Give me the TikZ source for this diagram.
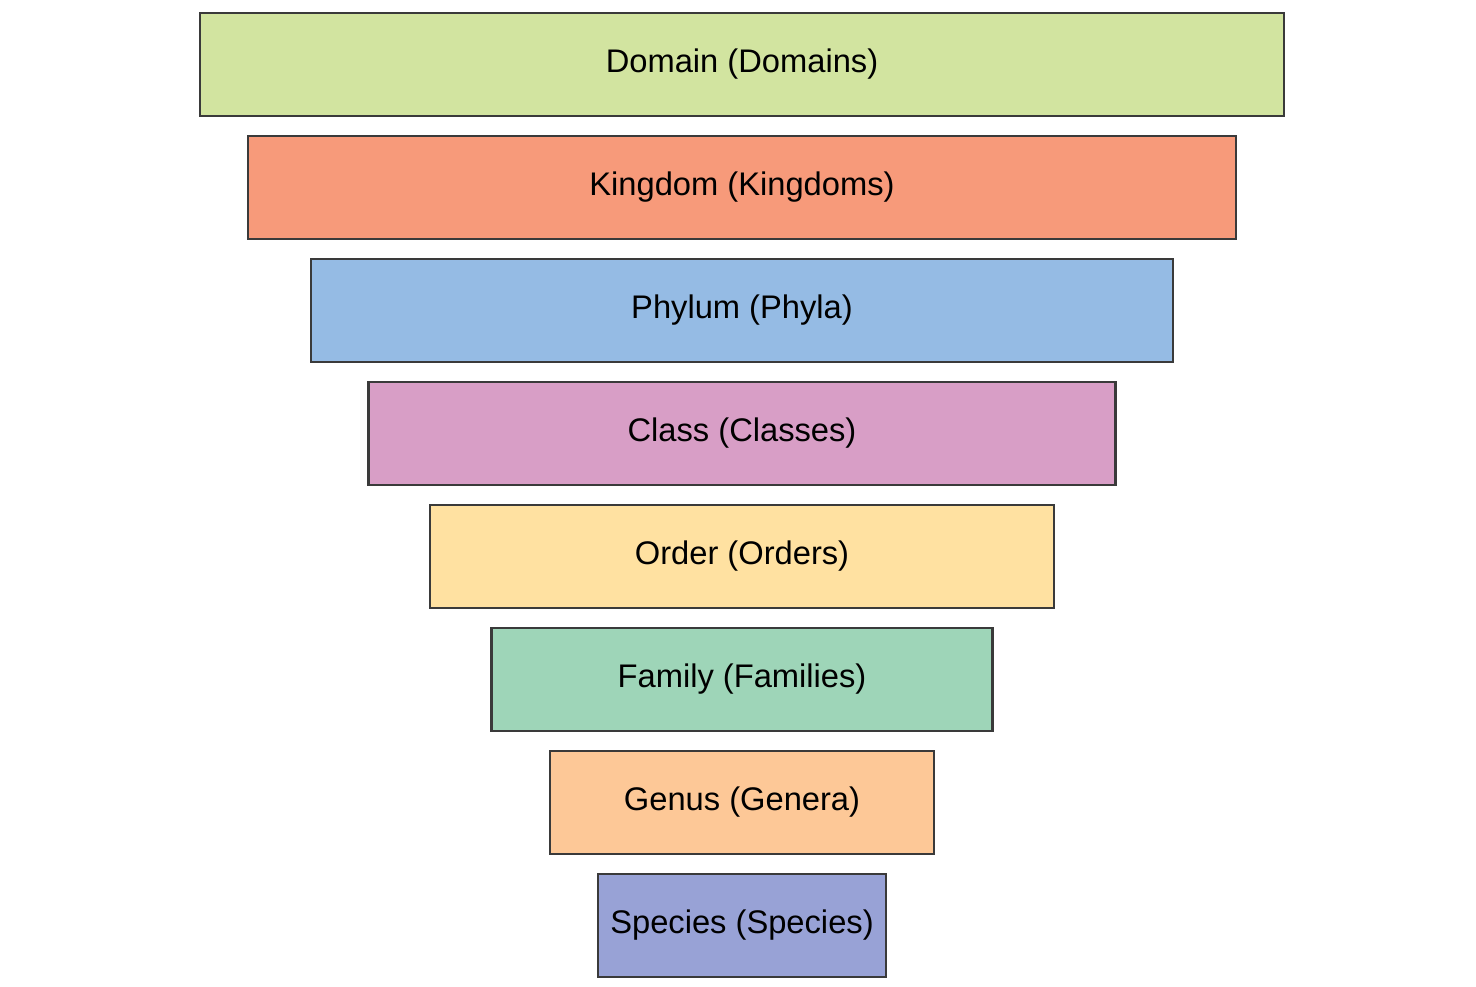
\documentclass[tikz,border=0pt]{standalone}
\usepackage{fontspec}
\setmainfont{Liberation Sans}
\usetikzlibrary{positioning}

\definecolor{domaincol}{HTML}{D2E4A0}
\definecolor{kingdomcol}{HTML}{F79A7A}
\definecolor{phylumcol}{HTML}{95BBE4}
\definecolor{classcol}{HTML}{D89EC6}
\definecolor{ordercol}{HTML}{FFE1A1}
\definecolor{familycol}{HTML}{9ED5B8}
\definecolor{genuscol}{HTML}{FDC897}
\definecolor{speciescol}{HTML}{98A2D6}
\definecolor{edgecol}{HTML}{3A3A3A}

\begin{document}
\begin{tikzpicture}
[
	rank/.style={rectangle,draw=edgecol,line width=0.8pt,minimum height=1.03cm,
	  inner sep=0pt,outer sep=0pt,font=\fontsize{9.3}{11}\selectfont},
	node distance=0.2cm
]

	\useasboundingbox (0,0) rectangle (14.76,9.86);

	% ranks, widest on top
	\node[rank,fill=domaincol,minimum width=10.84cm] (domain) at (7.42,9.215) {Domain (Domains)};
	\node[rank,fill=kingdomcol,minimum width=9.88cm,below=of domain] (kingdom) {Kingdom (Kingdoms)};
	\node[rank,fill=phylumcol,minimum width=8.62cm,below=of kingdom] (phylum) {Phylum (Phyla)};
	\node[rank,fill=classcol,minimum width=7.47cm,below=of phylum] (class) {Class (Classes)};
	\node[rank,fill=ordercol,minimum width=6.24cm,below=of class] (order) {Order (Orders)};
	\node[rank,fill=familycol,minimum width=5.01cm,below=of order] (family) {Family (Families)};
	\node[rank,fill=genuscol,minimum width=3.84cm,below=of family] (genus) {Genus (Genera)};
	\node[rank,fill=speciescol,minimum width=2.88cm,below=of genus] (species) {Species (Species)};

\end{tikzpicture}
\end{document}
